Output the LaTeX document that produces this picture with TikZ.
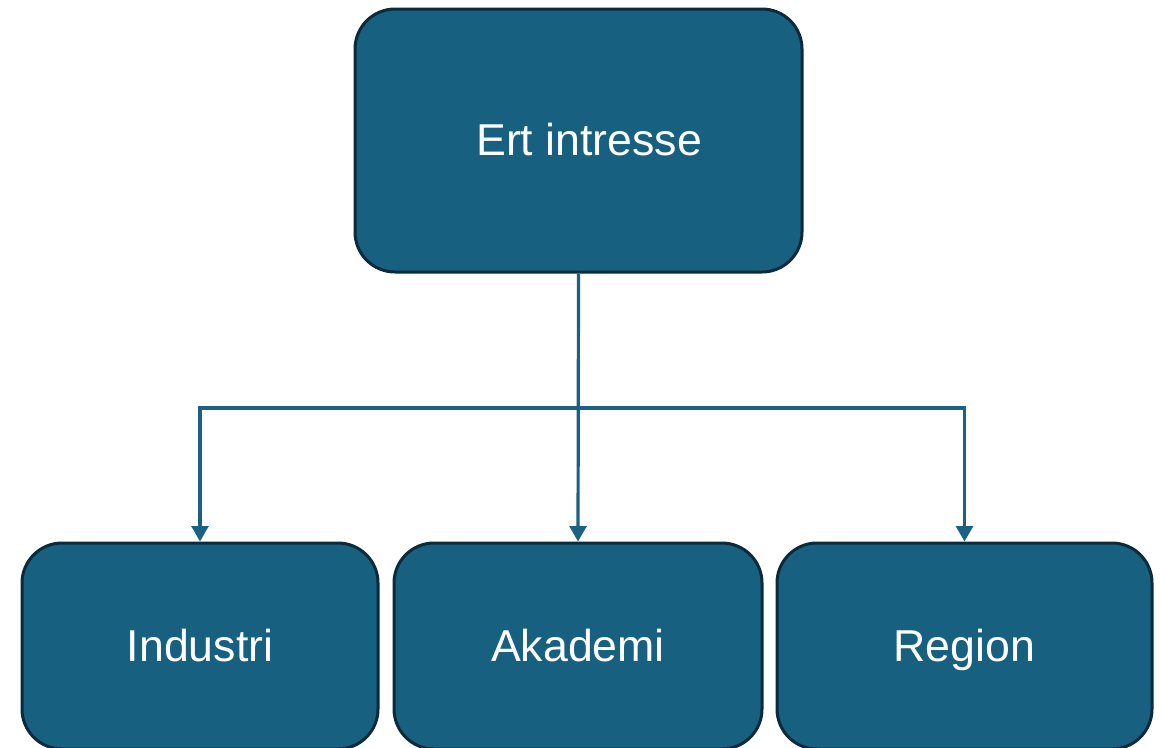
\documentclass[tikz,border=0pt]{standalone}
\usepackage{fontspec}
\setmainfont{Liberation Sans}
\usetikzlibrary{arrows.meta}
\definecolor{boxfill}{HTML}{17607F}
\definecolor{boxline}{HTML}{0B2A3C}
\definecolor{conn}{HTML}{1A6184}
\tikzset{
  box/.style={draw=boxline, fill=boxfill, line width=2.25pt, rounded corners=30pt,
    text=white, font=\fontsize{33.5}{40}\selectfont, inner sep=0pt,
    text height=26pt, text depth=3.5pt},
  conline/.style={draw=conn, line width=2.4pt, -{Triangle[width=12.5pt,length=11.5pt]}}
}
\begin{document}
\begin{tikzpicture}[x=0.75pt,y=-0.75pt]
\useasboundingbox (0,0) rectangle (1162,747);
\node[box, minimum width=335.25pt, minimum height=197.25pt] (top) at (578.5,140.5) {\hspace*{16pt}Ert intresse};
\node[box, minimum width=267pt, minimum height=154.5pt] (ind) at (200,646) {Industri};
\node[box, minimum width=276pt, minimum height=154.5pt] (aka) at (578,646) {Akademi};
\node[box, minimum width=281.25pt, minimum height=154.5pt] (reg) at (964.5,646) {Region};
\coordinate (j) at (578,408);
\draw[conline] (top.south) -- (aka.north);
\draw[conline] (j) -| (ind.north);
\draw[conline] (j) -| (reg.north);
\end{tikzpicture}
\end{document}
